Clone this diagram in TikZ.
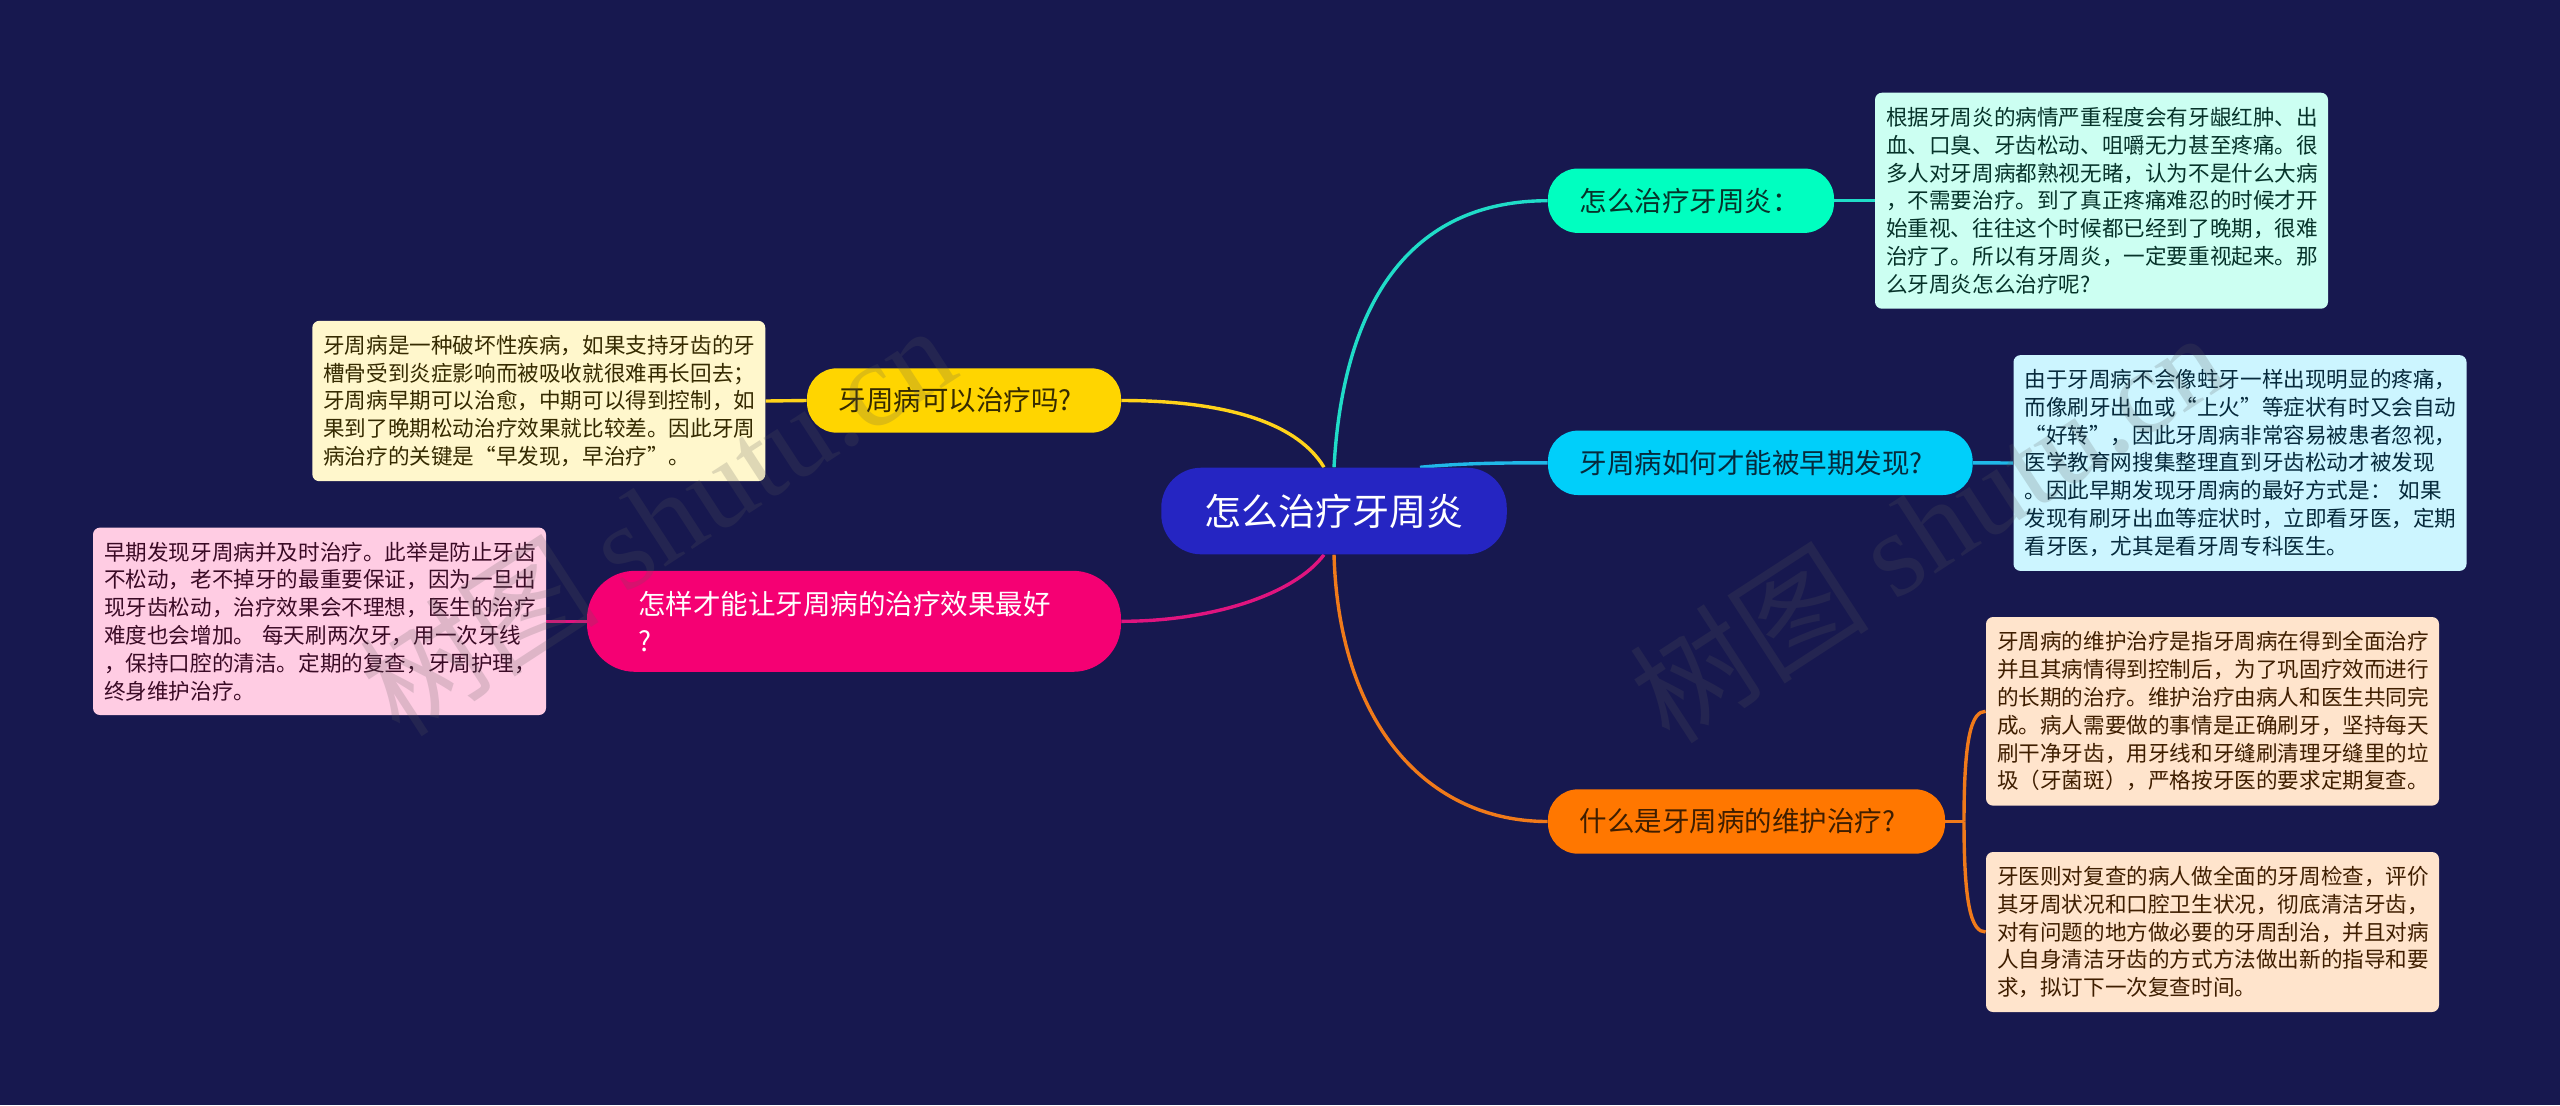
\documentclass[tikz,border=0pt]{standalone}
\usepackage{fontspec}
\setmainfont{Noto Sans CJK SC}
\newfontfamily\markfont{Liberation Serif}
\usetikzlibrary{backgrounds}
\definecolor{bgblue}{HTML}{17184F}
\definecolor{rootblue}{HTML}{2525C2}
\definecolor{cureteal}{HTML}{00FFC0}
\definecolor{curelink}{HTML}{20DCC8}
\definecolor{curetext}{HTML}{06332A}
\definecolor{curepale}{HTML}{CCFFF2}
\definecolor{watchblue}{HTML}{00CFFA}
\definecolor{watchlink}{HTML}{20B8E8}
\definecolor{watchtext}{HTML}{062A3C}
\definecolor{watchpale}{HTML}{CCF5FF}
\definecolor{careorange}{HTML}{FF7700}
\definecolor{carelink}{HTML}{F07A1A}
\definecolor{caretext}{HTML}{3F1E00}
\definecolor{carepale}{HTML}{FFE4CC}
\definecolor{askyellow}{HTML}{FFD500}
\definecolor{asklink}{HTML}{FFD31A}
\definecolor{asktext}{HTML}{352A00}
\definecolor{askpale}{HTML}{FFF7CC}
\definecolor{bestpink}{HTML}{F50073}
\definecolor{bestlink}{HTML}{E0147F}
\definecolor{besttext}{HTML}{3A0A25}
\definecolor{bestpale}{HTML}{FFCCE3}
\definecolor{markgray}{HTML}{5A5A5A}
\tikzset{
  rootnode/.style={rectangle,rounded corners=20pt,fill=rootblue,text=white,minimum width=172.75pt,minimum height=43.3pt,inner sep=0pt,font=\fontsize{18.5}{22}\selectfont},
  branch/.style={rectangle,rounded corners=15pt,minimum height=32.2pt,inner xsep=15.75pt,inner ysep=0pt,align=left,font=\fontsize{13.75}{18.5}\selectfont},
  detail/.style={rectangle,rounded corners=3.5pt,minimum width=226.5pt,text width=215.5pt,inner xsep=5.5pt,inner ysep=0pt,align=left,font=\fontsize{10.8}{13.9}\selectfont},
  link/.style={line width=1.7pt},
  watermark/.style={rotate=33,opacity=0.2,text=markgray,inner sep=0pt,font=\fontsize{60}{65}\selectfont}
}
\begin{document}
\begin{tikzpicture}[x=0.5pt,y=-0.5pt]
\useasboundingbox (0,0) rectangle (2560,1105);

\node[rootnode] (root) at (1334,511) {怎么治疗牙周炎};

% right side
\node[branch,fill=cureteal,text=curetext,text width=111.5pt] (cure) at (1691,200.7) {怎么治疗牙周炎：};
\node[branch,fill=watchblue,text=watchtext,text width=180.8pt] (watch) at (1760.3,462.8) {牙周病如何才能被早期发现?};
\node[branch,fill=careorange,text=caretext,text width=167pt] (care) at (1746.5,821.5) {什么是牙周病的维护治疗?};

\node[detail,fill=curepale,text=curetext,minimum height=108pt] (curetxt) at (2101.5,200.7) {根据牙周炎的病情严重程度会有牙龈红肿、出\\血、口臭、牙齿松动、咀嚼无力甚至疼痛。很\\多人对牙周病都熟视无睹，认为不是什么大病\\，不需要治疗。到了真正疼痛难忍的时候才开\\始重视、往往这个时候都已经到了晚期，很难\\治疗了。所以有牙周炎，一定要重视起来。那\\么牙周炎怎么治疗呢?};
\node[detail,fill=watchpale,text=watchtext,minimum height=107.9pt] (watchtxt) at (2240,463) {由于牙周病不会像蛀牙一样出现明显的疼痛，\\而像刷牙出血或“上火”等症状有时又会自动\\“好转”，因此牙周病非常容易被患者忽视，\\医学教育网搜集整理直到牙齿松动才被发现\\。因此早期发现牙周病的最好方式是： 如果\\发现有刷牙出血等症状时，立即看牙医，定期\\看牙医，尤其是看牙周专科医生。};
\node[detail,fill=carepale,text=caretext,minimum height=94.3pt] (caretxta) at (2212.5,711.3) {牙周病的维护治疗是指牙周病在得到全面治疗\\并且其病情得到控制后，为了巩固疗效而进行\\的长期的治疗。维护治疗由病人和医生共同完\\成。病人需要做的事情是正确刷牙，坚持每天\\刷干净牙齿，用牙线和牙缝刷清理牙缝里的垃\\圾（牙菌斑），严格按牙医的要求定期复查。};
\node[detail,fill=carepale,text=caretext,minimum height=80pt] (caretxtb) at (2212.5,932) {牙医则对复查的病人做全面的牙周检查，评价\\其牙周状况和口腔卫生状况，彻底清洁牙齿，\\对有问题的地方做必要的牙周刮治，并且对病\\人自身清洁牙齿的方式方法做出新的指导和要\\求，拟订下一次复查时间。};

% left side
\node[branch,fill=askyellow,text=asktext,text width=125.5pt] (ask) at (964,400.5) {牙周病可以治疗吗?};
\node[branch,fill=bestpink,text=white,rounded corners=24pt,minimum height=50.5pt,inner xsep=25.5pt,text width=216pt] (best) at (854,621.3) {怎样才能让牙周病的治疗效果最好\\?};

\node[detail,fill=askpale,text=asktext,minimum height=80.2pt] (asktxt) at (538.8,401) {牙周病是一种破坏性疾病，如果支持牙齿的牙\\槽骨受到炎症影响而被吸收就很难再长回去；\\牙周病早期可以治愈，中期可以得到控制，如\\果到了晚期松动治疗效果就比较差。因此牙周\\病治疗的关键是“早发现，早治疗”。};
\node[detail,fill=bestpale,text=besttext,minimum height=93.7pt] (besttxt) at (319.5,621.3) {早期发现牙周病并及时治疗。此举是防止牙齿\\不松动，老不掉牙的最重要保证，因为一旦出\\现牙齿松动，治疗效果会不理想，医生的治疗\\难度也会增加。 每天刷两次牙，用一次牙线\\，保持口腔的清洁。定期的复查，牙周护理，\\终身维护治疗。};

\coordinate (fork) at (1964,821.5);

\begin{pgfonlayer}{background}
\fill[bgblue] (0,0) rectangle (2560,1105);
\draw[link,curelink] (root.north) .. controls +(10,-178) and +(-128,0) .. (cure.west);
\draw[link,curelink] (cure.east) -- (curetxt.west);
\draw[link,watchlink] ([xshift=43pt]root.north) .. controls +(40,-4) and +(-50,0) .. (watch.west);
\draw[link,watchlink] (watch.east) -- (watchtxt.west);
\draw[link,carelink] (root.south) .. controls +(5,170) and +(-120,0) .. (care.west);
\draw[link,carelink] (care.east) -- (fork);
\draw[link,carelink] (fork) .. controls +(0,-85) and +(-14,0) .. (caretxta.west);
\draw[link,carelink] (fork) .. controls +(0,85) and +(-14,0) .. (caretxtb.west);
\draw[link,asklink] ([xshift=-5pt]root.north) .. controls +(-30,-50) and +(90,0) .. (ask.east);
\draw[link,asklink] (ask.west) -- (asktxt.east);
\draw[link,bestlink] ([xshift=-5pt]root.south) .. controls +(-30,40) and +(90,0) .. (best.east);
\draw[link,bestlink] (best.west) -- (besttxt.east);
\end{pgfonlayer}

% faint marks over everything
\node[watermark] (markleft) at (657,519) {树图 {\markfont shutu.cn}};
\node[watermark] (markright) at (1927,526) {树图 {\markfont shutu.cn}};
\end{tikzpicture}
\end{document}
